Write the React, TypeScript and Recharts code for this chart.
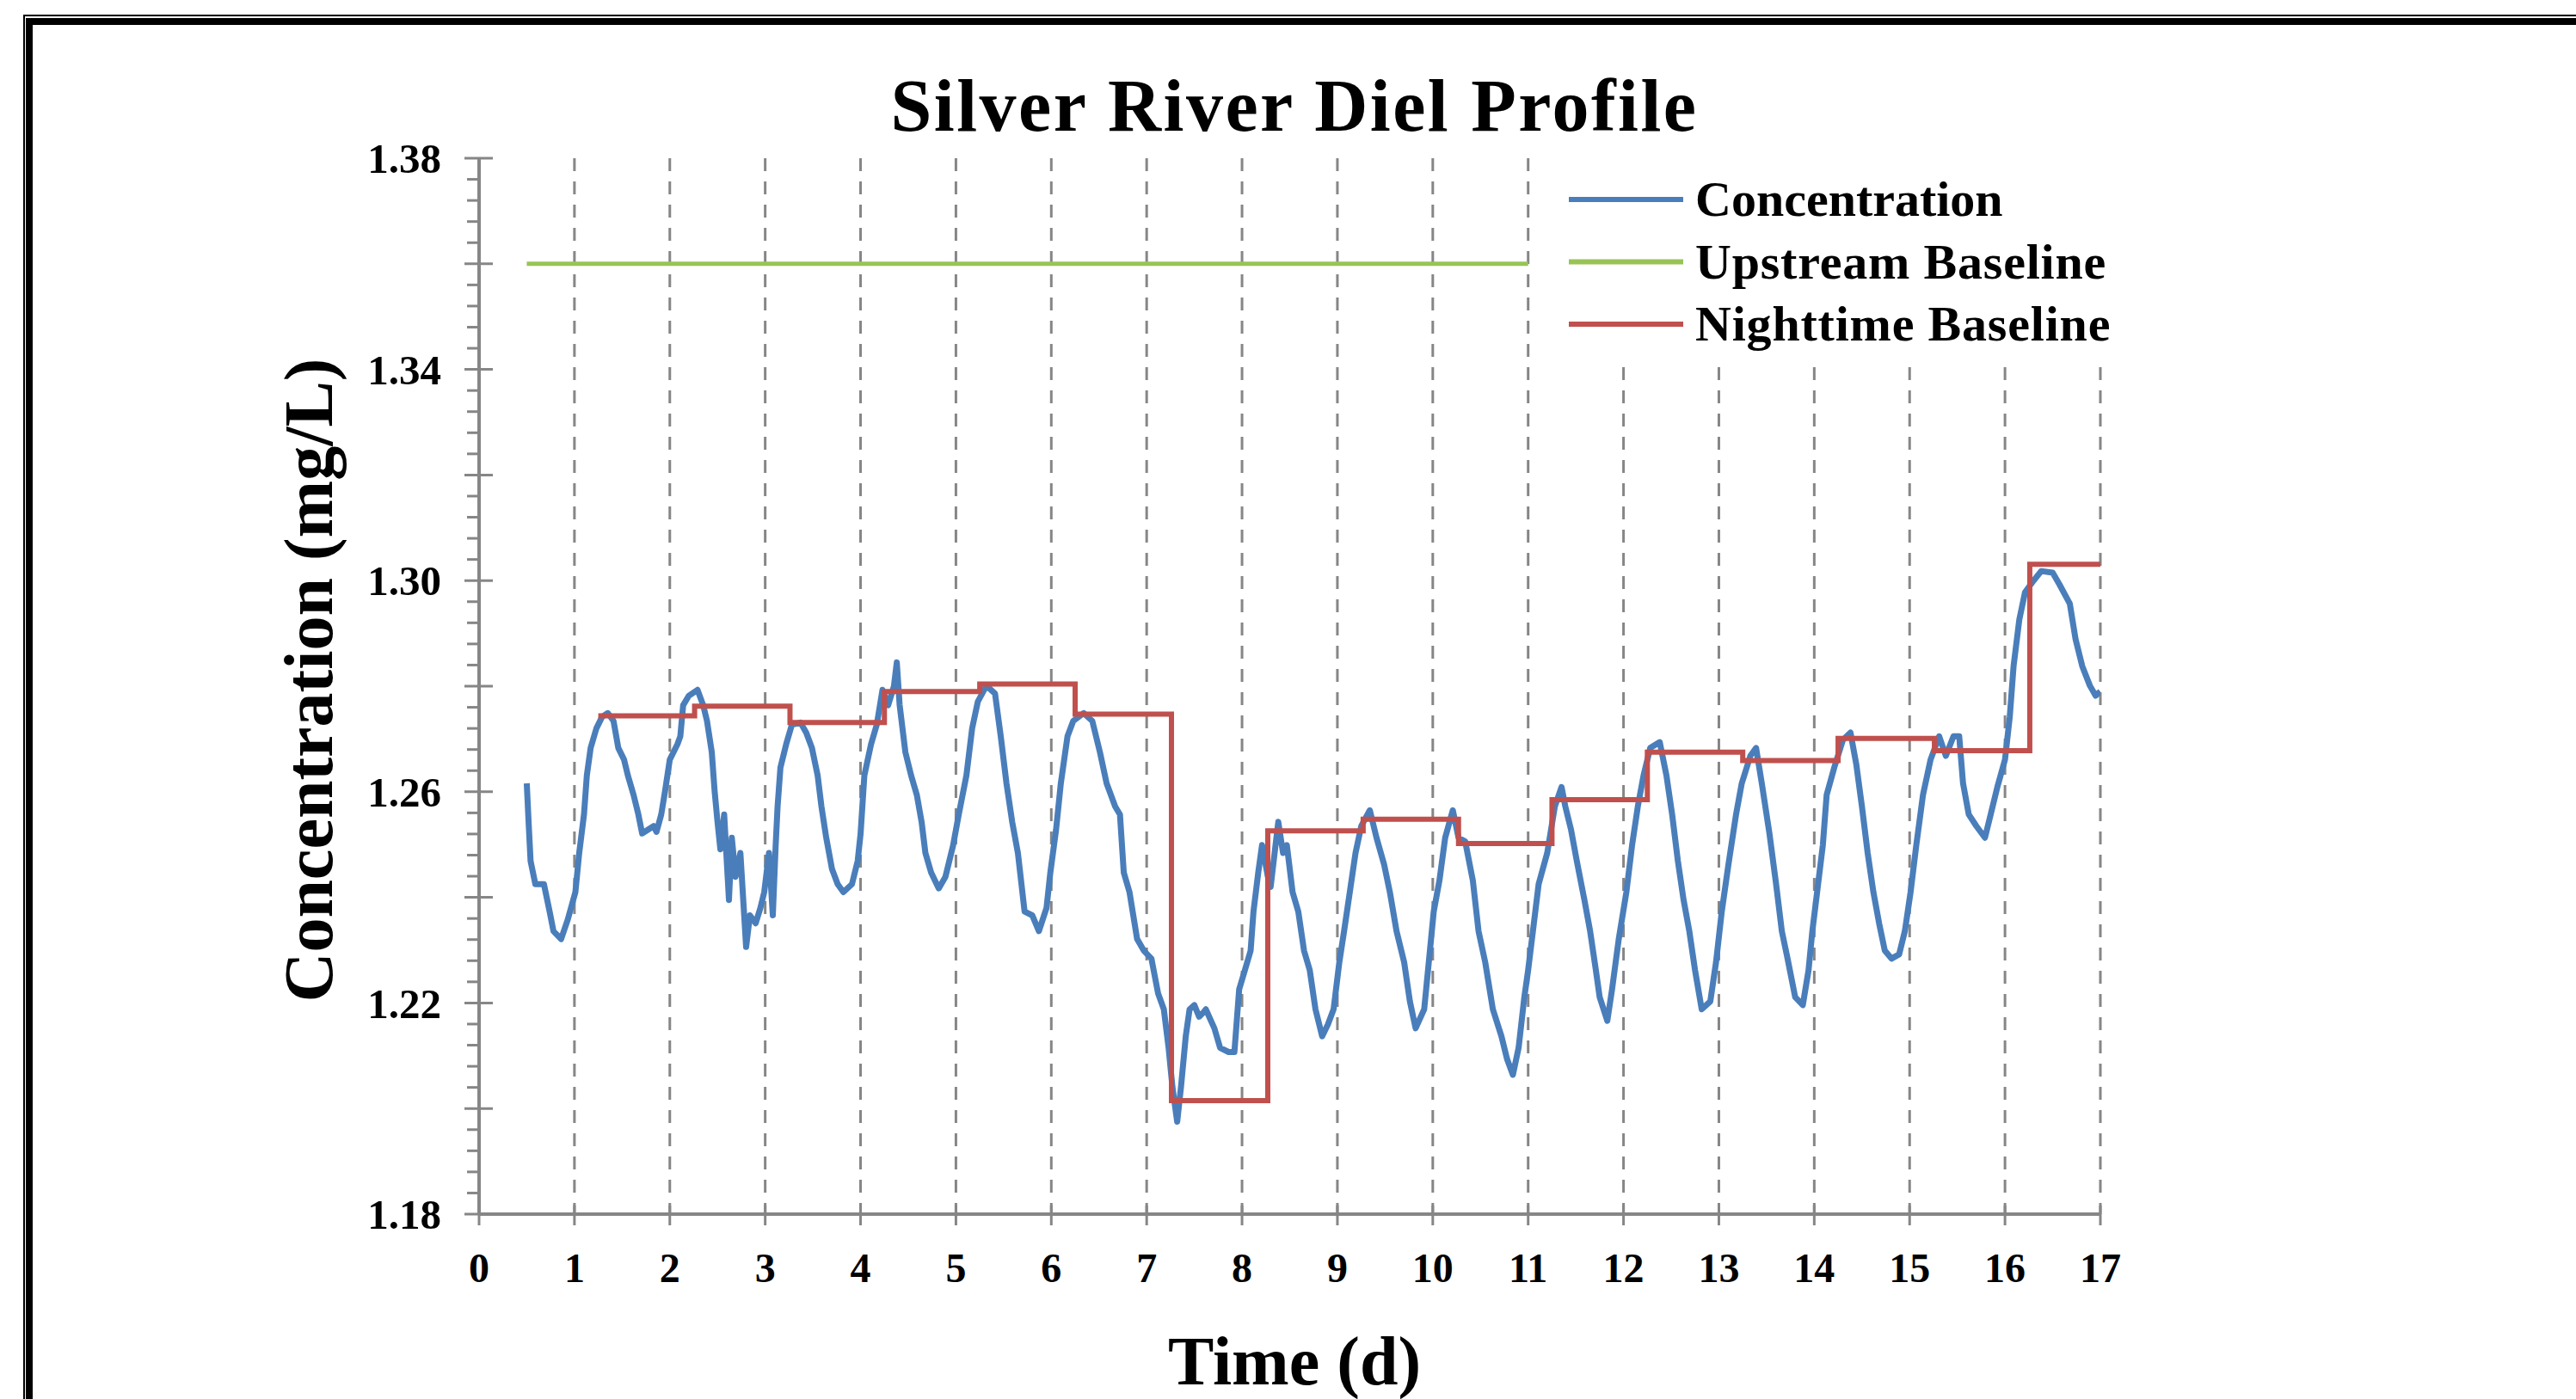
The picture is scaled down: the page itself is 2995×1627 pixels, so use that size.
import React from 'react';
import { LineChart, Line, XAxis, YAxis, CartesianGrid } from 'recharts';

const FONT = "'Liberation Serif', 'Times New Roman', serif";

// Concentration (mg/L) vs time (d)
const concTimes = [
  0.5, 0.52, 0.54, 0.59, 0.68, 0.74, 0.78, 0.86, 0.93, 1.01, 1.05, 1.1, 1.13, 1.17, 1.23, 1.29, 1.35, 1.41, 1.46, 1.52,
  1.56, 1.62, 1.67, 1.71, 1.77, 1.83, 1.86, 1.91, 1.95, 2.0, 2.08, 2.11, 2.14, 2.2, 2.29, 2.35, 2.39, 2.44, 2.47, 2.5,
  2.53, 2.57, 2.62, 2.65, 2.69, 2.74, 2.8, 2.84, 2.9, 2.95, 2.99, 3.04, 3.08, 3.11, 3.13, 3.16, 3.22, 3.28, 3.37, 3.43,
  3.49, 3.55, 3.59, 3.64, 3.7, 3.76, 3.82, 3.91, 3.97, 4.0, 4.04, 4.11, 4.17, 4.23, 4.29, 4.35, 4.38, 4.41, 4.47, 4.53,
  4.59, 4.64, 4.68, 4.74, 4.82, 4.89, 4.97, 5.03, 5.11, 5.17, 5.23, 5.32, 5.41, 5.47, 5.53, 5.59, 5.65, 5.72, 5.8, 5.87,
  5.95, 5.99, 6.05, 6.1, 6.17, 6.23, 6.34, 6.43, 6.51, 6.58, 6.67, 6.72, 6.76, 6.82, 6.9, 6.97, 7.05, 7.12, 7.18, 7.23,
  7.27, 7.32, 7.36, 7.41, 7.45, 7.5, 7.55, 7.59, 7.62, 7.71, 7.77, 7.86, 7.92, 7.97, 8.03, 8.09, 8.12, 8.17, 8.21, 8.27,
  8.3, 8.38, 8.43, 8.47, 8.53, 8.59, 8.65, 8.71, 8.77, 8.84, 8.9, 8.96, 9.02, 9.07, 9.13, 9.19, 9.25, 9.34, 9.41, 9.49,
  9.55, 9.62, 9.7, 9.76, 9.82, 9.91, 9.97, 10.01, 10.07, 10.13, 10.21, 10.27, 10.34, 10.42, 10.48, 10.55, 10.63, 10.72, 10.78, 10.84,
  10.9, 10.96, 11.0, 11.05, 11.11, 11.2, 11.28, 11.35, 11.39, 11.45, 11.51, 11.59, 11.65, 11.71, 11.75, 11.83, 11.88, 11.95, 12.03, 12.09,
  12.15, 12.21, 12.28, 12.38, 12.45, 12.51, 12.57, 12.63, 12.69, 12.75, 12.82, 12.91, 12.97, 13.03, 13.1, 13.18, 13.24, 13.33, 13.39, 13.45,
  13.53, 13.6, 13.66, 13.72, 13.8, 13.88, 13.94, 13.98, 14.03, 14.09, 14.13, 14.21, 14.3, 14.38, 14.44, 14.5, 14.56, 14.62, 14.68, 14.74,
  14.81, 14.89, 14.95, 15.01, 15.07, 15.14, 15.22, 15.31, 15.38, 15.46, 15.52, 15.56, 15.62, 15.7, 15.79, 15.85, 15.92, 16.0, 16.05, 16.09,
  16.15, 16.21, 16.3, 16.38, 16.5, 16.57, 16.68, 16.74, 16.81, 16.89, 16.95, 17.0,
];
const concValues = [
  1.2616, 1.254, 1.2469, 1.2425, 1.2425, 1.2373, 1.2336, 1.2321, 1.2358, 1.241, 1.2484, 1.2557, 1.2631, 1.2683, 1.272, 1.2742, 1.2749, 1.2734, 1.2683, 1.2661,
  1.2631, 1.2594, 1.2557, 1.2521, 1.2528, 1.2535, 1.2524, 1.2557, 1.2601, 1.2661, 1.269, 1.2705, 1.2764, 1.2782, 1.2793, 1.2764, 1.2734, 1.2675, 1.2601, 1.2543,
  1.2491, 1.2557, 1.2395, 1.2513, 1.2439, 1.2484, 1.2306, 1.2366, 1.2351, 1.238, 1.241, 1.2484, 1.2366, 1.2499, 1.2572, 1.2646, 1.269, 1.2727, 1.2731, 1.2712,
  1.2683, 1.2631, 1.2572, 1.2513, 1.2454, 1.2425, 1.241, 1.2425, 1.2469, 1.252, 1.2631, 1.269, 1.2727, 1.2793, 1.2764, 1.28, 1.2845, 1.2764, 1.2675, 1.2631,
  1.2594, 1.2543, 1.2484, 1.2447, 1.2417, 1.2439, 1.2498, 1.2557, 1.2631, 1.272, 1.2771, 1.2801, 1.2786, 1.2705, 1.2616, 1.2543, 1.2484, 1.2373, 1.2366, 1.2336,
  1.238, 1.2447, 1.2528, 1.2616, 1.2705, 1.2734, 1.2749, 1.2734, 1.2675, 1.2616, 1.2572, 1.2557, 1.2447, 1.241, 1.2321, 1.2299, 1.2284, 1.2218, 1.2188, 1.2115,
  1.2041, 1.1975, 1.2041, 1.2137, 1.2188, 1.2196, 1.2174, 1.2181, 1.2188, 1.2152, 1.2115, 1.2107, 1.2107, 1.2226, 1.2262, 1.2299, 1.2373, 1.2447, 1.2499, 1.244,
  1.242, 1.2543, 1.2484, 1.2499, 1.241, 1.2373, 1.2299, 1.2262, 1.2188, 1.2137, 1.2159, 1.2188, 1.2277, 1.2336, 1.241, 1.2484, 1.2535, 1.2565, 1.2513, 1.2462,
  1.241, 1.2336, 1.2277, 1.2203, 1.2152, 1.2188, 1.2299, 1.2373, 1.2432, 1.2513, 1.2565, 1.2513, 1.2506, 1.2432, 1.2336, 1.2277, 1.2188, 1.2137, 1.2093, 1.2064,
  1.2115, 1.2211, 1.2262, 1.2336, 1.2425, 1.2484, 1.2572, 1.2609, 1.2572, 1.2528, 1.2469, 1.2395, 1.2336, 1.2262, 1.2211, 1.2166, 1.2226, 1.2321, 1.241, 1.2499,
  1.2572, 1.2631, 1.2683, 1.2694, 1.2631, 1.2557, 1.2469, 1.2395, 1.2336, 1.2262, 1.2188, 1.2203, 1.2277, 1.2373, 1.2462, 1.2557, 1.2616, 1.2668, 1.2683, 1.2616,
  1.2521, 1.2425, 1.2336, 1.2284, 1.2211, 1.2196, 1.2262, 1.2336, 1.241, 1.2499, 1.2594, 1.2646, 1.2698, 1.2712, 1.2653, 1.2572, 1.2484, 1.241, 1.2351, 1.2299,
  1.2284, 1.2292, 1.2336, 1.241, 1.2499, 1.2594, 1.2661, 1.2705, 1.2668, 1.2705, 1.2705, 1.2616, 1.2557, 1.2535, 1.2513, 1.2557, 1.2609, 1.2661, 1.2742, 1.2838,
  1.2926, 1.2978, 1.3, 1.3018, 1.3015, 1.2993, 1.2956, 1.2889, 1.2838, 1.2801, 1.2782, 1.279,
];

// Nighttime baseline (step) — start time of each step and its level
const nightTimes = [1.25, 2.26, 3.26, 4.25, 5.25, 6.25, 7.26, 8.27, 9.27, 10.27, 11.25, 12.25, 13.25, 14.25, 15.26, 16.26, 17.0];
const nightValues = [1.2744, 1.2762, 1.2731, 1.279, 1.2804, 1.2747, 1.2015, 1.2526, 1.2548, 1.2502, 1.2585, 1.2675, 1.2659, 1.2701, 1.2678, 1.3031, 1.3031];

// Upstream baseline
const upstreamTimes = [0.5, 11];
const upstreamValues = [1.36, 1.36];

const xTicks = [0, 1, 2, 3, 4, 5, 6, 7, 8, 9, 10, 11, 12, 13, 14, 15, 16, 17];
const yTicks = [
  1.18, 1.184, 1.188, 1.192, 1.196, 1.2, 1.204, 1.208, 1.212, 1.216, 1.22, 1.224, 1.228, 1.232, 1.236, 1.24, 1.244,
  1.248, 1.252, 1.256, 1.26, 1.264, 1.268, 1.272, 1.276, 1.28, 1.284, 1.288, 1.292, 1.296, 1.3, 1.304, 1.308, 1.312,
  1.316, 1.32, 1.324, 1.328, 1.332, 1.336, 1.34, 1.344, 1.348, 1.352, 1.356, 1.36, 1.364, 1.368, 1.372, 1.376, 1.38,
];

const legendItems = [
  { name: 'Concentration', color: '#4A7EBB' },
  { name: 'Upstream Baseline', color: '#98C455' },
  { name: 'Nighttime Baseline', color: '#C0504D' },
];

const concData = concTimes.map((t, i) => ({ t, v: concValues[i] }));
const nightData = nightTimes.map((t, i) => ({ t, v: nightValues[i] }));
const upstreamData = upstreamTimes.map((t, i) => ({ t, v: upstreamValues[i] }));

const AXIS = '#868686';

const YTick = (props: any) => {
  const { x, y, payload } = props;
  const k = Math.round(payload.value * 1000) - 1180;
  const labeled = k % 40 === 0;
  const major = k % 20 === 0;
  return (
    <g>
      {major ? (
        <line x1={x - 17} x2={x + 16} y1={y} y2={y} stroke={AXIS} strokeWidth={3} />
      ) : (
        <line x1={x - 14} x2={x} y1={y} y2={y} stroke={AXIS} strokeWidth={3} />
      )}
      {labeled && (
        <text x={x - 44} y={y} dy="0.35em" textAnchor="end" fontFamily={FONT} fontWeight="bold" fontSize={49} fill="#000">
          {payload.value.toFixed(2)}
        </text>
      )}
    </g>
  );
};

const XTick = (props: any) => {
  const { x, y, payload } = props;
  return (
    <g>
      <line x1={x} x2={x} y1={y - 10} y2={y + 13} stroke={AXIS} strokeWidth={3} />
      <text x={x} y={y + 45} dy="0.71em" textAnchor="middle" fontFamily={FONT} fontWeight="bold" fontSize={48} fill="#000">
        {payload.value}
      </text>
    </g>
  );
};

export default function App() {
  const W = 2995;
  const H = 1627;
  const yAxisW = 150;
  const xAxisH = 100;
  return (
    <div style={{ position: 'absolute', left: 0, top: 0, width: W, height: H, background: '#fff', overflow: 'hidden' }}>
      {/* outer frame */}
      <div style={{ position: 'absolute', left: 27, top: 17, width: 4000, height: 4000, borderLeft: '2px solid #000', borderTop: '2px solid #000' }} />
      <div style={{ position: 'absolute', left: 30, top: 21, width: 4000, height: 4000, borderLeft: '8px solid #000', borderTop: '8px solid #000' }} />
      <div style={{ position: 'absolute', left: 0, top: 0 }}>
        <LineChart
          width={W}
          height={H}
          margin={{ top: 184, right: W - 2442, bottom: 215 - xAxisH, left: 557 - yAxisW }}
        >
          <CartesianGrid vertical horizontal={false} stroke={AXIS} strokeWidth={3} strokeDasharray="15 12" />
          <XAxis
            dataKey="t"
            type="number"
            domain={[0, 17]}
            ticks={xTicks}
            interval={0}
            allowDataOverflow
            height={xAxisH}
            axisLine={{ stroke: AXIS, strokeWidth: 4 }}
            tickLine={false}
            tickSize={0}
            tickMargin={0}
            tick={<XTick />}
          />
          <YAxis
            dataKey="v"
            type="number"
            domain={[1.18, 1.38]}
            ticks={yTicks}
            interval={0}
            allowDataOverflow
            width={yAxisW}
            axisLine={{ stroke: AXIS, strokeWidth: 4 }}
            tickLine={false}
            tickSize={0}
            tickMargin={0}
            tick={<YTick />}
          />
          <Line data={upstreamData} dataKey="v" type="linear" stroke="#98C455" strokeWidth={5} dot={false} isAnimationActive={false} />
          <Line data={concData} dataKey="v" type="linear" stroke="#4A7EBB" strokeWidth={7} strokeLinejoin="round" dot={false} isAnimationActive={false} />
          <Line data={nightData} dataKey="v" type="stepAfter" stroke="#C0504D" strokeWidth={6} dot={false} isAnimationActive={false} />
        </LineChart>
      </div>
      <svg width={W} height={H} style={{ position: 'absolute', left: 0, top: 0, pointerEvents: 'none' }}>
        <text x={1505} y={152} textAnchor="middle" fontFamily={FONT} fontWeight="bold" fontSize={86} letterSpacing={2.5} fill="#000">
          Silver River Diel Profile
        </text>
        <text x={1505} y={1610} textAnchor="middle" fontFamily={FONT} fontWeight="bold" fontSize={80} fill="#000">
          Time (d)
        </text>
        <text
          x={0}
          y={0}
          transform="translate(386, 791) rotate(-90)"
          textAnchor="middle"
          fontFamily={FONT}
          fontWeight="bold"
          fontSize={80}
          fill="#000"
        >
          Concentration (mg/L)
        </text>
        <rect x={1790} y={176} width={700} height={242} fill="#fff" />
        {legendItems.map((item, i) => {
          const cy = 232 + i * 72.5;
          return (
            <g key={item.name}>
              <line x1={1824} x2={1957} y1={cy} y2={cy} stroke={item.color} strokeWidth={6} />
              <text x={1971} y={cy + 19} fontFamily={FONT} fontWeight="bold" fontSize={58} letterSpacing={i === 0 ? 0 : 0.8} fill="#000">
                {item.name}
              </text>
            </g>
          );
        })}
      </svg>
    </div>
  );
}
